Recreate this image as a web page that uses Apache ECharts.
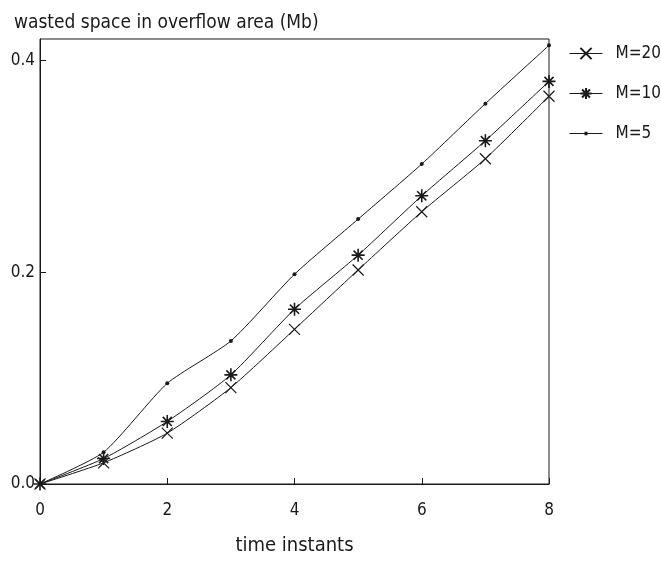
<!DOCTYPE html>
<html>
<head>
<meta charset="utf-8">
<script src="https://cdn.jsdelivr.net/npm/echarts@6/dist/echarts.min.js"></script>
<style>html,body{margin:0;padding:0;background:#fff}#c{width:661px;height:561px}</style>
</head>
<body>
<div id="c"></div>
<script>
const timeInstants = [0, 1, 2, 3, 4, 5, 6, 7, 8];
const m20 = [0, 0.020, 0.048, 0.091, 0.146, 0.202, 0.257, 0.307, 0.366];
const m10 = [0, 0.024, 0.059, 0.103, 0.165, 0.216, 0.272, 0.324, 0.380];
const m5  = [0, 0.030, 0.095, 0.135, 0.198, 0.250, 0.302, 0.359, 0.414];
const xTicks = [0, 2, 4, 6, 8];
const yTicks = [0, 0.2, 0.4];
const seriesNames = ['M=20', 'M=10', 'M=5'];

const FONT = '"Liberation Sans Narrow", "DejaVu Sans Condensed", "Liberation Sans", sans-serif';
const INK = '#1a1a1a';
const crossPath = 'path://M0,0L10,10M10,0L0,10';
const starPath = 'path://M0,5L10,5M5,0L5,10M1.5,1.5L8.5,8.5M8.5,1.5L1.5,8.5';
const dotLegendIcon = 'path://M0,6.6H33V7.4H0Z M15,5.3H18V8.7H15Z';

const pairs = arr => timeInstants.map((t, i) => [t, arr[i]]);

const chart = echarts.init(document.getElementById('c'), null, {renderer: 'canvas'});
chart.setOption({
  animation: false,
  backgroundColor: '#fff',
  title: {
    text: 'wasted space in overflow area (Mb)',
    left: 9, top: 9,
    textStyle: {fontFamily: FONT, fontSize: 19, fontWeight: 'normal', color: INK}
  },
  grid: {left: 40, right: 112, top: 39, bottom: 73, show: true, borderColor: INK, borderWidth: 1, backgroundColor: 'transparent'},
  legend: {
    orient: 'vertical', left: 564, top: 40,
    itemWidth: 33, itemHeight: 14, itemGap: 23,
    lineStyle: {width: 1, color: INK},
    textStyle: {fontFamily: FONT, fontSize: 17, color: INK, padding: [0, 0, 0, 8]},
    data: [
      {name: seriesNames[0]},
      {name: seriesNames[1]},
      {name: seriesNames[2], icon: dotLegendIcon}
    ]
  },
  xAxis: {
    type: 'value', min: 0, max: 8, interval: 2,
    axisLine: {lineStyle: {color: INK, width: 1}},
    axisTick: {inside: true, length: 6, lineStyle: {color: INK}, customValues: xTicks},
    axisLabel: {fontFamily: FONT, fontSize: 17, color: INK, margin: 18, customValues: xTicks},
    splitLine: {show: false},
    name: 'time instants', nameLocation: 'middle', nameGap: 52,
    nameTextStyle: {fontFamily: FONT, fontSize: 20, color: INK}
  },
  yAxis: {
    type: 'value', min: 0, max: 0.42,
    axisLine: {lineStyle: {color: INK, width: 1}},
    axisTick: {inside: true, length: 6, lineStyle: {color: INK}, customValues: yTicks},
    axisLabel: {fontFamily: FONT, fontSize: 17, color: INK, margin: 5, customValues: yTicks,
      formatter: v => v.toFixed(1)},
    splitLine: {show: false}
  },
  series: [
    {name: 'M=20', type: 'line', data: pairs(m20), smooth: 0.2,
      symbol: crossPath, symbolSize: 11,
      lineStyle: {color: INK, width: 1},
      itemStyle: {color: INK, borderColor: INK, borderWidth: 1.2}},
    {name: 'M=10', type: 'line', data: pairs(m10), smooth: 0.2,
      symbol: starPath, symbolSize: 13,
      lineStyle: {color: INK, width: 1},
      itemStyle: {color: INK, borderColor: INK, borderWidth: 1.6}},
    {name: 'M=5', type: 'line', data: pairs(m5), smooth: 0.2,
      symbol: 'circle', symbolSize: 4,
      lineStyle: {color: INK, width: 1},
      itemStyle: {color: INK, borderColor: INK, borderWidth: 0}}
  ]
});
</script>
</body>
</html>
